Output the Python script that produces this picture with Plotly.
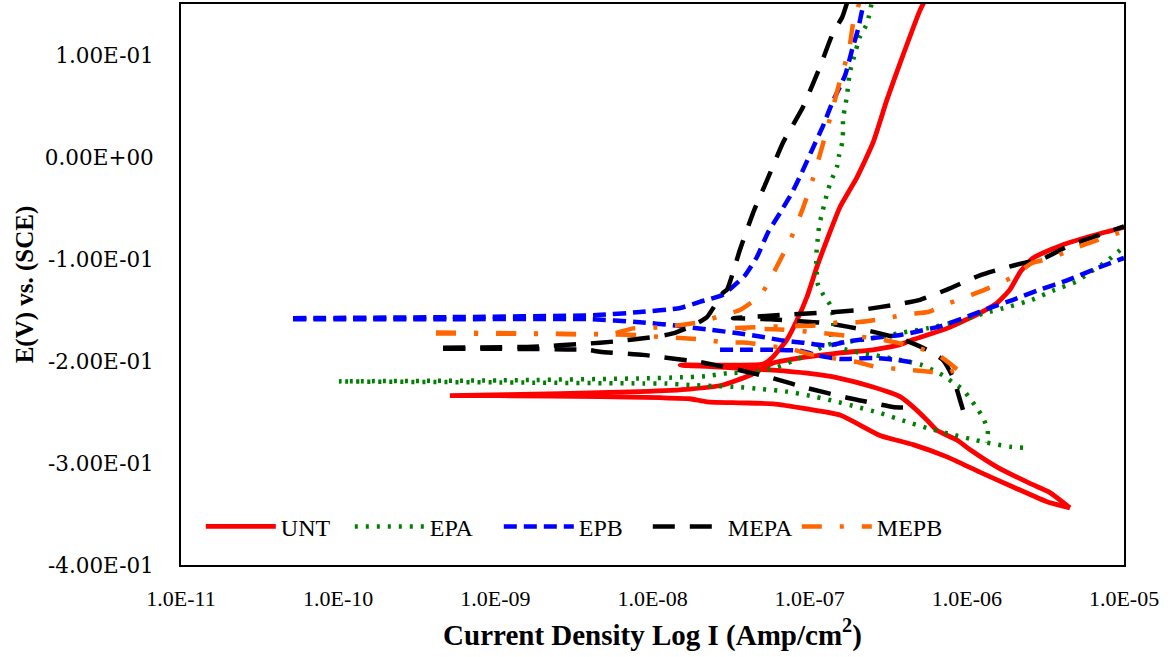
import plotly.graph_objects as go

# ---------------- data (current density A/cm2, potential V vs SCE) ----------------
# UNT
unt_fwd_i = [4.53e-6, 3.24e-6, 1.97e-6, 1.21e-6, 7.48e-7, 4.55e-7, 2.80e-7, 1.56e-7, 9.62e-8, 5.84e-8,
             3.60e-8, 2.22e-8, 1.73e-8, 1.12e-8, 4.63e-9, 1.07e-9, 5.14e-10,
             2.58e-9, 8.32e-9, 1.73e-8, 2.81e-8, 4.17e-8, 5.05e-8, 5.84e-8, 9.62e-8, 1.56e-7, 2.53e-7,
             3.76e-7, 4.55e-7, 7.48e-7, 1.21e-6, 1.56e-6, 1.88e-6, 2.18e-6, 2.64e-6, 4.09e-6, 6.73e-6, 1.0e-5]
unt_fwd_e = [-0.344, -0.338, -0.3235, -0.309, -0.294, -0.282, -0.273, -0.253, -0.247, -0.242,
             -0.241, -0.240, -0.237, -0.236, -0.235, -0.234, -0.234,
             -0.232, -0.230, -0.2275, -0.2235, -0.214, -0.207, -0.202, -0.196, -0.192, -0.189,
             -0.184, -0.179, -0.168, -0.153, -0.143, -0.130, -0.113, -0.099, -0.086, -0.076, -0.069]
unt_rev_i = [5.7e-7, 5.04e-7, 3.76e-7, 3.10e-7, 2.53e-7, 2.00e-7, 1.56e-7, 1.29e-7, 1.11e-7, 9.62e-8,
             8.30e-8, 7.17e-8, 5.84e-8, 5.05e-8, 2.69e-8, 1.50e-8, 2.69e-8, 5.84e-8, 9.62e-8, 1.56e-7,
             2.53e-7, 3.76e-7, 4.55e-7, 5.58e-7, 6.46e-7, 8.66e-7, 1.05e-6, 1.56e-6, 2.52e-6, 3.38e-6, 4.53e-6]
unt_rev_e = [0.16, 0.144, 0.092, 0.056, 0.014, -0.020, -0.049, -0.081, -0.108, -0.137,
             -0.160, -0.179, -0.196, -0.203, -0.204, -0.204, -0.206, -0.209, -0.212, -0.217,
             -0.2255, -0.235, -0.245, -0.258, -0.268, -0.2775, -0.287, -0.304, -0.320, -0.329, -0.344]

# EPA
epa_fwd_i = [2.28e-6, 1.88e-6, 1.58e-6, 1.34e-6, 1.13e-6, 8.04e-7, 5.66e-7, 4.04e-7, 2.80e-7, 2.00e-7,
             1.41e-7, 1.00e-7, 7.17e-8, 4.97e-8, 3.50e-8, 2.43e-8, 1.73e-8, 1.20e-8, 8.70e-9, 1.07e-9, 1.0e-10,
             1.07e-9, 8.70e-9, 1.50e-8, 2.16e-8, 2.98e-8, 4.36e-8, 6.20e-8, 8.68e-8, 1.31e-7, 1.80e-7,
             2.80e-7, 3.93e-7, 5.58e-7, 9.31e-7, 1.30e-6, 1.83e-6, 2.60e-6, 3.53e-6, 5.02e-6, 5.81e-6, 7.79e-6, 1.0e-5]
epa_fwd_e = [-0.285, -0.284, -0.282, -0.280, -0.2775, -0.272, -0.266, -0.259, -0.251, -0.245,
             -0.239, -0.234, -0.230, -0.2275, -0.2255, -0.2245, -0.2235, -0.222, -0.222, -0.221, -0.220,
             -0.219, -0.217, -0.216, -0.215, -0.212, -0.211, -0.206, -0.197, -0.184, -0.181,
             -0.1765, -0.172, -0.168, -0.160, -0.153, -0.147, -0.140, -0.131, -0.122, -0.115, -0.102, -0.088]
epa_rev_i = [2.55e-7, 2.49e-7, 2.32e-7, 2.09e-7, 1.89e-7, 1.80e-7, 1.73e-7, 1.68e-7, 1.63e-7, 1.63e-7,
             1.61e-7, 1.54e-7, 1.49e-7, 1.39e-7, 1.31e-7, 1.25e-7, 1.20e-7, 1.15e-7, 1.13e-7, 1.11e-7,
             1.10e-7, 1.11e-7, 1.13e-7, 1.22e-7, 1.35e-7, 1.41e-7, 1.41e-7, 1.37e-7, 1.56e-7, 2.09e-7,
             2.53e-7, 4.35e-7, 5.18e-7, 6.09e-7, 7.05e-7, 8.16e-7, 9.45e-7, 1.05e-6, 1.16e-6, 1.27e-6,
             1.36e-6, 1.34e-6]
epa_rev_e = [0.16, 0.152, 0.131, 0.118, 0.095, 0.083, 0.061, 0.049, 0.038, 0.025,
             0.014, 0.002, -0.010, -0.021, -0.032, -0.044, -0.055, -0.067, -0.078, -0.089,
             -0.103, -0.114, -0.1255, -0.135, -0.145, -0.157, -0.167, -0.1765, -0.187, -0.192,
             -0.194, -0.201, -0.204, -0.209, -0.214, -0.221, -0.228, -0.237, -0.246, -0.256,
             -0.268, -0.280]

# EPB
epb_a_i = [5.16e-11, 5.14e-10, 4.43e-9, 8.32e-9, 1.50e-8, 2.00e-8, 2.81e-8, 3.60e-8, 3.88e-8, 4.62e-8,
           5.43e-8, 6.47e-8, 7.72e-8, 8.93e-8, 1.05e-7, 1.22e-7, 1.39e-7, 1.68e-7, 1.86e-7, 2.03e-7,
           2.18e-7, 2.30e-7]
epb_a_e = [-0.158, -0.157, -0.155, -0.152, -0.148, -0.142, -0.135, -0.121, -0.116, -0.098,
           -0.074, -0.055, -0.035, -0.015, 0.009, 0.031, 0.053, 0.080, 0.105, 0.125,
           0.147, 0.16]
epb_b_i = [5.16e-11, 5.14e-10, 4.00e-9, 8.32e-9, 1.35e-8, 2.22e-8, 3.60e-8, 5.05e-8, 6.76e-8, 9.07e-8,
           1.29e-7, 1.73e-7, 2.53e-7, 3.76e-7, 4.55e-7, 6.75e-7, 9.45e-7, 1.40e-6, 1.97e-6, 2.92e-6,
           4.34e-6, 6.73e-6, 1.0e-5]
epb_b_e = [-0.159, -0.159, -0.159, -0.162, -0.165, -0.169, -0.173, -0.1765, -0.180, -0.182,
           -0.185, -0.181, -0.1775, -0.1745, -0.172, -0.166, -0.158, -0.148, -0.140, -0.130,
           -0.121, -0.109, -0.099]
epb_c_i = [2.69e-8, 3.60e-8, 5.84e-8, 8.68e-8, 1.16e-7, 1.56e-7, 2.53e-7, 3.59e-7, 4.40e-7]
epb_c_e = [-0.189, -0.189, -0.189, -0.190, -0.195, -0.198, -0.197, -0.199, -0.201]

# MEPA
mepa_a_i = [4.65e-10, 1.74e-9, 3.83e-9, 5.61e-9, 1.01e-8, 1.35e-8, 1.81e-8, 2.22e-8, 2.81e-8, 2.98e-8,
            3.60e-8, 4.36e-8, 5.35e-8, 6.76e-8, 9.07e-8, 1.16e-7, 1.41e-7, 1.61e-7, 1.80e-7]
mepa_a_e = [-0.187, -0.186, -0.183, -0.181, -0.1765, -0.173, -0.165, -0.157, -0.133, -0.130,
            -0.091, -0.055, -0.023, 0.014, 0.049, 0.088, 0.122, 0.137, 0.16]
mepa_b_i = [4.65e-10, 3.83e-9, 4.63e-9, 8.70e-9, 1.12e-8, 2.00e-8, 3.60e-8, 5.84e-8, 9.62e-8, 1.73e-7,
            2.32e-7, 3.39e-7, 4.35e-7]
mepa_b_e = [-0.188, -0.189, -0.191, -0.194, -0.196, -0.201, -0.209, -0.217, -0.2265, -0.236,
            -0.240, -0.245, -0.246]
mepa_c_i = [9.45e-7, 9.04e-7, 8.16e-7, 7.05e-7, 5.58e-7, 3.93e-7, 2.32e-7, 1.29e-7, 8.68e-8, 5.59e-8,
            3.25e-8, 6.47e-8, 1.11e-7, 2.09e-7, 3.76e-7, 5.04e-7, 7.48e-7, 1.21e-6, 1.63e-6, 2.28e-6,
            2.92e-6, 4.34e-6, 5.25e-6, 7.79e-6, 1.0e-5]
mepa_c_e = [-0.248, -0.238, -0.216, -0.199, -0.189, -0.179, -0.170, -0.163, -0.161, -0.159,
            -0.158, -0.155, -0.153, -0.150, -0.144, -0.140, -0.130, -0.116, -0.110, -0.104,
            -0.101, -0.088, -0.083, -0.074, -0.068]

# MEPB
mepb_a_i = [4.19e-10, 1.74e-9, 5.61e-9, 7.52e-9, 1.12e-8, 2.00e-8, 2.81e-8, 3.60e-8, 4.90e-8, 6.10e-8,
            7.60e-8, 9.07e-8, 1.05e-7, 1.20e-7, 1.37e-7, 1.56e-7, 1.78e-7, 1.89e-7, 2.03e-7, 2.15e-7]
mepb_a_e = [-0.172, -0.173, -0.173, -0.168, -0.167, -0.162, -0.155, -0.150, -0.135, -0.109,
            -0.080, -0.050, -0.021, 0.010, 0.042, 0.075, 0.105, 0.131, 0.147, 0.16]
mepb_b_i = [4.19e-10, 5.61e-9, 7.96e-9, 1.12e-8, 1.50e-8, 2.10e-8, 2.98e-8, 3.99e-8, 7.83e-8, 1.05e-7,
            2.00e-7, 2.68e-7, 3.87e-7, 5.42e-7, 7.26e-7, 8.66e-7]
mepb_b_e = [-0.173, -0.174, -0.1745, -0.1765, -0.1775, -0.179, -0.182, -0.182, -0.189, -0.194,
            -0.201, -0.206, -0.208, -0.210, -0.212, -0.208]
mepb_c_i = [8.66e-7, 6.55e-7, 4.89e-7, 3.59e-7, 2.53e-7, 1.80e-7, 1.11e-7, 6.47e-8, 3.11e-8, 6.47e-8,
            1.11e-7, 1.56e-7, 2.00e-7, 3.10e-7, 4.22e-7, 5.66e-7, 7.81e-7, 1.08e-6, 1.40e-6, 1.94e-6,
            2.60e-6, 3.48e-6, 4.73e-6, 6.35e-6, 8.51e-6, 1.0e-5]
mepb_c_e = [-0.208, -0.194, -0.187, -0.182, -0.1775, -0.1755, -0.172, -0.169, -0.168, -0.166,
            -0.165, -0.162, -0.162, -0.158, -0.154, -0.152, -0.143, -0.135, -0.128, -0.118,
            -0.104, -0.099, -0.090, -0.083, -0.076, -0.073]

x_tick_vals = [1e-11, 1e-10, 1e-9, 1e-8, 1e-7, 1e-6, 1e-5]
x_tick_text = ["1.0E-11", "1.0E-10", "1.0E-09", "1.0E-08", "1.0E-07", "1.0E-06", "1.0E-05"]
y_tick_vals = [-0.4, -0.3, -0.2, -0.1, 0.0, 0.1]
y_tick_text = ["-4.00E-01", "-3.00E-01", "-2.00E-01", "-1.00E-01", "0.00E+00", "1.00E-01"]


def join(*parts):
    out = []
    for k, p in enumerate(parts):
        if k:
            out.append(None)
        out.extend(p)
    return out


series = [
    ("UNT", join(unt_fwd_i, unt_rev_i), join(unt_fwd_e, unt_rev_e), "#FF0000", "solid", 4.8),
    ("EPA", join(epa_fwd_i, epa_rev_i), join(epa_fwd_e, epa_rev_e), "#008000", "3px,8px", 4.5),
    ("EPB", join(epb_a_i, epb_b_i, epb_c_i), join(epb_a_e, epb_b_e, epb_c_e), "#0000FF", "13px,7px", 4.5),
    ("MEPA", join(mepa_a_i, mepa_b_i, mepa_c_i), join(mepa_a_e, mepa_b_e, mepa_c_e), "#000000", "22px,15px", 4.5),
    ("MEPB", join(mepb_a_i, mepb_b_i, mepb_c_i), join(mepb_a_e, mepb_b_e, mepb_c_e), "#FF6600", "20px,18px,4px,18px", 4.5),
]

fig = go.Figure()
for name, xs, ys, color, dash, w in series:
    fig.add_trace(go.Scatter(x=xs, y=ys, mode="lines", name=name,
                             line=dict(color=color, dash=dash, width=w, shape="spline", smoothing=0.5),
                             connectgaps=False))

fig.update_layout(
    width=1175, height=657,
    margin=dict(l=181, r=51, t=4, b=92, autoexpand=False),
    paper_bgcolor="white", plot_bgcolor="white",
    showlegend=True,
    legend=dict(orientation="h", x=0.021, y=0.068, xanchor="left", yanchor="middle",
                bgcolor="rgba(0,0,0,0)", font=dict(family="Liberation Serif", size=24, color="black"),
                entrywidth=64, entrywidthmode="pixels", itemwidth=70),
    xaxis=dict(type="log", range=[-11, -5], tickvals=x_tick_vals, ticktext=x_tick_text,
               showgrid=False, zeroline=False, showline=True, linecolor="black", linewidth=1.8,
               mirror=True, ticks="", ticklabelstandoff=13,
               tickfont=dict(family="Liberation Serif", size=22, color="black"),
               title=dict(text="<b>Current Density Log I (Amp/cm<sup>2</sup>)</b>",
                          font=dict(family="Liberation Serif", size=29, color="black"), standoff=14)),
    yaxis=dict(range=[-0.4, 0.15], tickvals=y_tick_vals, ticktext=y_tick_text,
               showgrid=False, zeroline=False, showline=True, linecolor="black", linewidth=1.8,
               mirror=True, ticks="", ticklabelstandoff=21,
               tickfont=dict(family="DejaVu Serif", size=21.5, color="black"),
               title=dict(text="<b>E(V) vs. (SCE)</b>",
                          font=dict(family="Liberation Serif", size=25, color="black"), standoff=4)),
)

fig.write_html("out.html", config={"displayModeBar": False},
               post_script="document.body.style.margin='0';document.body.style.padding='0';")
